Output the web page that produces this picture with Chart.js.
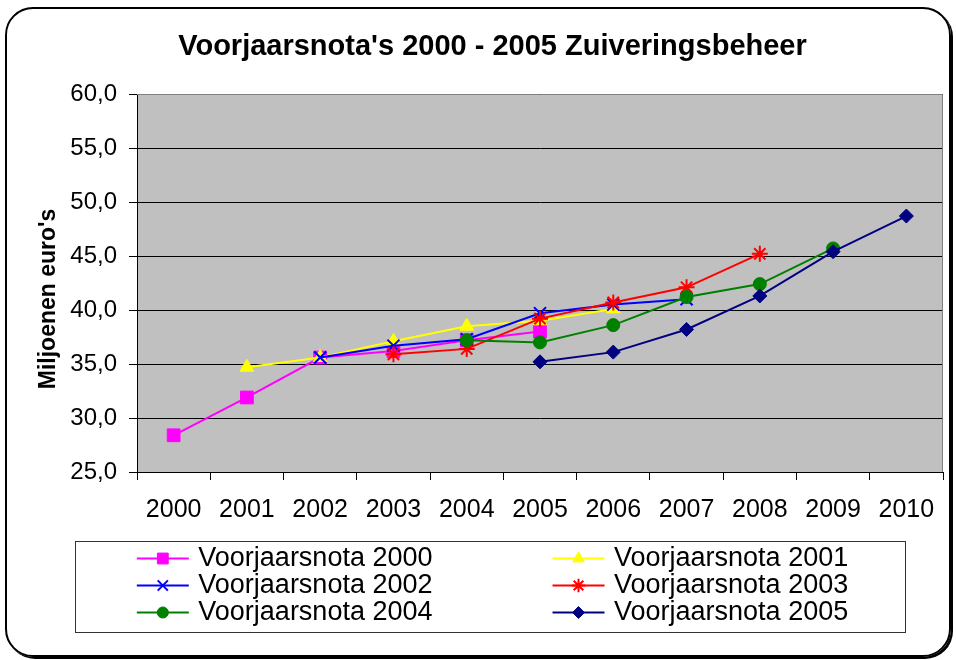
<!DOCTYPE html>
<html>
<head>
<meta charset="utf-8">
<title>Voorjaarsnota's 2000 - 2005 Zuiveringsbeheer</title>
<script src="https://cdn.jsdelivr.net/npm/chart.js@4.4.1/dist/chart.umd.min.js"></script>
<style>
  html, body { margin: 0; padding: 0; background: #fff; }
  #wrap { position: relative; width: 956px; height: 660px; }
  #frame {
    position: absolute; left: 5px; top: 7px; width: 942px; height: 646px;
    border: 2px solid #000; border-radius: 28px; box-shadow: 2px 2px 0 #000;
    pointer-events: none;
  }
</style>
</head>
<body>
<div id="wrap">
  <canvas id="myChart" width="956" height="660"></canvas>
  <div id="frame"></div>
</div>
<script>
// data
var years = ["2000", "2001", "2002", "2003", "2004", "2005", "2006", "2007", "2008", "2009", "2010"];
var vn2000 = [28.4, 31.9, 35.6, 36.2, 37.2, 38.0, null, null, null, null, null];
var vn2001 = [null, 34.7, 35.6, 37.1, 38.5, 39.0, 40.1, null, null, null, null];
var vn2002 = [null, null, 35.6, 36.7, 37.3, 39.7, 40.5, 41.0, null, null, null];
var vn2003 = [null, null, null, 35.9, 36.4, 39.2, 40.7, 42.1, 45.2, null, null];
var vn2004 = [null, null, null, null, 37.2, 37.0, 38.6, 41.2, 42.4, 45.7, null];
var vn2005 = [null, null, null, null, null, 35.2, 36.1, 38.2, 41.3, 45.4, 48.7];
var seriesNames = ["Voorjaarsnota 2000", "Voorjaarsnota 2001", "Voorjaarsnota 2002",
                   "Voorjaarsnota 2003", "Voorjaarsnota 2004", "Voorjaarsnota 2005"];
var seriesValues = [vn2000, vn2001, vn2002, vn2003, vn2004, vn2005];
var yTicks = [25, 30, 35, 40, 45, 50, 55, 60];

// styles
var lineColors = ["#FF00FF", "#FFFF00", "#0000FF", "#FF0000", "#008000", "#000080"];
var markers = ["rect", "triangle", "crossRot", "star", "circle", "rectRot"];
var markerRadius = [9, 8, 8.5, 8, 6.5, 7];
var FONT = "'Liberation Sans', Arial, sans-serif";
var NBSP = "\u00a0";

var datasets = seriesValues.map(function (vals, i) {
    var lineOnly = markers[i] === "crossRot" || markers[i] === "star";
    return {
        label: seriesNames[i],
        data: vals,
        borderColor: lineColors[i],
        backgroundColor: lineColors[i],
        borderWidth: 2,
        pointStyle: markers[i],
        pointRadius: markerRadius[i],
        pointBackgroundColor: lineColors[i],
        pointBorderColor: lineColors[i],
        pointBorderWidth: lineOnly ? 2 : 1,
        tension: 0,
        order: 5 - i
    };
});

// grey plot area + frame
var plotBg = {
    id: "plotBg",
    beforeDraw: function (chart) {
        var a = chart.chartArea, ctx = chart.ctx;
        ctx.save();
        ctx.fillStyle = "#C0C0C0";
        ctx.fillRect(a.left, a.top, a.right - a.left, a.bottom - a.top);
        ctx.restore();
    },
    beforeDatasetsDraw: function (chart) {
        var a = chart.chartArea, ctx = chart.ctx;
        ctx.save();
        ctx.strokeStyle = "#808080";
        ctx.lineWidth = 1;
        ctx.beginPath();
        ctx.moveTo(a.left, a.top + 0.5);
        ctx.lineTo(a.right - 0.5, a.top + 0.5);
        ctx.lineTo(a.right - 0.5, a.bottom);
        ctx.stroke();
        ctx.restore();
    }
};

// legend: line + marker in front of each label, box round it
var legendDecor = {
    id: "legendDecor",
    afterDraw: function (chart) {
        var lg = chart.legend, ctx = chart.ctx;
        var boxes = lg.legendHitBoxes;
        if (!boxes || !boxes.length) return;
        ctx.save();
        boxes.forEach(function (hb, i) {
            var ds = chart.data.datasets[i];
            var y = hb.top + hb.height / 2;
            ctx.strokeStyle = ds.borderColor;
            ctx.fillStyle = ds.borderColor;
            ctx.lineWidth = 2;
            ctx.beginPath();
            ctx.moveTo(hb.left, y);
            ctx.lineTo(hb.left + 52, y);
            ctx.stroke();
            if (Chart.helpers && Chart.helpers.drawPoint) {
                ctx.lineWidth = ds.pointBorderWidth;
                Chart.helpers.drawPoint(ctx, {
                    pointStyle: ds.pointStyle,
                    radius: ds.pointRadius * 0.85,
                    rotation: 0,
                    borderWidth: ds.pointBorderWidth
                }, hb.left + 26, y);
            }
        });
        var left = boxes[0].left - 62;
        var right = boxes[1].left + 352;
        ctx.strokeStyle = "#333";
        ctx.lineWidth = 1;
        ctx.strokeRect(Math.round(left) + 0.5, lg.top - 3.5, Math.round(right - left), 91);
        ctx.restore();
    }
};

new Chart("myChart", {
    type: "line",
    data: {
        labels: years,
        datasets: datasets
    },
    plugins: [plotBg, legendDecor],
    options: {
        responsive: false,
        animation: false,
        devicePixelRatio: 1,
        layout: { padding: { top: 10, left: 42, right: 13, bottom: 24 } },
        plugins: {
            title: {
                display: true,
                text: "Voorjaarsnota's 2000 - 2005 Zuiveringsbeheer",
                color: "#000",
                font: { family: FONT, size: 29, weight: "bold", lineHeight: 1.2 },
                padding: { top: 19.6, bottom: 29.6 }
            },
            legend: {
                position: "bottom",
                labels: {
                    color: "#000",
                    font: { family: FONT, size: 27 },
                    boxWidth: 48,
                    boxHeight: 27,
                    padding: 0,
                    generateLabels: function (chart) {
                        return chart.data.datasets.map(function (ds, i) {
                            return {
                                text: i % 2 === 0 ? ds.label + NBSP.repeat(16) : ds.label,
                                fillStyle: "rgba(0,0,0,0)",
                                strokeStyle: "rgba(0,0,0,0)",
                                lineWidth: 0,
                                hidden: false,
                                datasetIndex: i,
                                fontColor: "#000"
                            };
                        });
                    }
                }
            },
            tooltip: { enabled: false }
        },
        scales: {
            x: {
                offset: true,
                grid: { offset: true, drawOnChartArea: false, drawTicks: true, tickLength: 8, color: "#000" },
                border: { color: "#000", width: 1 },
                ticks: {
                    color: "#000",
                    font: { family: FONT, size: 25, lineHeight: 1 },
                    padding: 17.5,
                    maxRotation: 0,
                    autoSkip: false
                },
                afterFit: function (s) { s.height = 73; }
            },
            y: {
                min: yTicks[0],
                max: yTicks[yTicks.length - 1],
                afterBuildTicks: function (s) {
                    s.ticks = yTicks.map(function (v) { return { value: v }; });
                },
                grid: { color: "#000", lineWidth: 1, tickLength: 8, drawTicks: true },
                border: { color: "#000", width: 1 },
                ticks: {
                    color: "#000",
                    font: { family: FONT, size: 24 },
                    padding: 12,
                    callback: function (v) { return Number(v).toFixed(1).replace(".", ","); }
                },
                title: {
                    display: true,
                    text: "Miljoenen euro's" + NBSP.repeat(5),
                    color: "#000",
                    font: { family: FONT, size: 23, weight: "bold", lineHeight: 1 },
                    padding: { top: -5, bottom: 0 }
                },
                afterFit: function (s) { s.width = 95; }
            }
        }
    }
});
</script>
</body>
</html>
